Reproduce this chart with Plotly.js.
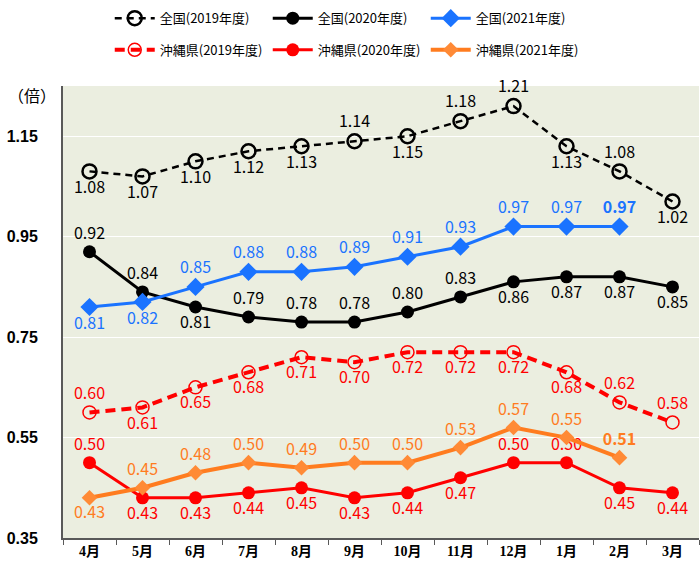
<!DOCTYPE html>
<html><head><meta charset="utf-8">
<script src="https://cdn.plot.ly/plotly-3.0.1.min.js"></script>
<style>html,body{margin:0;padding:0;background:#fff}#c{width:700px;height:569px}</style>
</head><body><div id="c"></div>
<script>
const months = ['4月','5月','6月','7月','8月','9月','10月','11月','12月','1月','2月','3月'];
const zenkoku2019 = [1.08,1.07,1.10,1.12,1.13,1.14,1.15,1.18,1.21,1.13,1.08,1.02];
const zenkoku2020 = [0.92,0.84,0.81,0.79,0.78,0.78,0.80,0.83,0.86,0.87,0.87,0.85];
const zenkoku2021 = [0.81,0.82,0.85,0.88,0.88,0.89,0.91,0.93,0.97,0.97,0.97];
const okinawa2019 = [0.60,0.61,0.65,0.68,0.71,0.70,0.72,0.72,0.72,0.68,0.62,0.58];
const okinawa2020 = [0.50,0.43,0.43,0.44,0.45,0.43,0.44,0.47,0.50,0.50,0.45,0.44];
const okinawa2021 = [0.43,0.45,0.48,0.50,0.49,0.50,0.50,0.53,0.57,0.55,0.51];

// label placement: 'u' above, 'd' below
const pos_z19 = 'ddddduduudud';
const pos_z20 = 'uuduuuuudddd';
const pos_z21 = 'dduuuuuuuuu';
const pos_o19 = 'uddddddddduu';
const pos_o20 = 'uddddddduudd';
const pos_o21 = 'duuuuuuuuuu';

const JP = '"Noto Sans CJK JP", "Noto Sans", sans-serif';
function tp(p){return p.split('').map(c=>c==='u'?'top center':'bottom center');}
function lbl(arr, boldLast){return arr.map((v,i)=>{const s=v.toFixed(2);return (boldLast&&i===arr.length-1)?'<b>'+s+'</b>':s;});}

function tr(name, leg, y, pos, color, dash, width, marker, boldLast){
  return {
    type:'scatter', mode:'lines+markers+text', name:name, legend:leg,
    x: months.slice(0,y.length), y:y,
    text: lbl(y,boldLast), textposition: tp(pos),
    textfont:{family:JP,size:16,color:color},
    line:{color:color,width:width,dash:dash},
    marker:marker, cliponaxis:false, hoverinfo:'skip'
  };
}

const data = [
  tr('全国(2019年度)', 'legend', zenkoku2019, pos_z19, '#000000', '7px,5px', 2.5,
     {symbol:'circle-open',size:14,color:'#000000',line:{width:2.5,color:'#000000'}}),
  tr('全国(2020年度)', 'legend', zenkoku2020, pos_z20, '#000000', 'solid', 3,
     {symbol:'circle',size:13,color:'#000000'}),
  tr('全国(2021年度)', 'legend', zenkoku2021, pos_z21, '#1a73ff', 'solid', 3,
     {symbol:'diamond',size:14,color:'#1a73ff'}, true),
  tr('沖縄県(2019年度)', 'legend2', okinawa2019, pos_o19, '#ff0000', '10px,6px', 4,
     {symbol:'circle-open',size:13,color:'#ff0000',line:{width:1.5,color:'#ff0000'}}),
  tr('沖縄県(2020年度)', 'legend2', okinawa2020, pos_o20, '#ff0000', 'solid', 3,
     {symbol:'circle',size:13,color:'#ff0000'}),
  tr('沖縄県(2021年度)', 'legend2', okinawa2021, pos_o21, '#ff7c1f', 'solid', 4,
     {symbol:'diamond',size:12,color:'#ff8a36'}, true)
];

const legBase = {orientation:'h', xanchor:'left', yanchor:'middle', itemwidth:40,
          entrywidth:103, entrywidthmode:'pixels', traceorder:'normal',
          font:{family:JP,size:13,color:'#000'}, bgcolor:'rgba(0,0,0,0)'};

const layout = {
  width:700, height:569,
  margin:{l:63,r:1,t:86,b:31,autoexpand:false},
  paper_bgcolor:'#ffffff', plot_bgcolor:'#ebeee0',
  showlegend:true,
  legend:Object.assign({}, legBase, {x:0.0735, y:1.150}),
  legend2:Object.assign({}, legBase, {x:0.0735, y:1.080}),
  xaxis:{type:'category', tickson:'boundaries', ticks:'outside', ticklen:5, tickcolor:'#595959',
         showline:true, linecolor:'#595959', linewidth:1.5, showgrid:false, zeroline:false,
         tickfont:{family:'"Liberation Serif", "Noto Sans CJK JP", serif', size:14, color:'#000', weight:'bold'},
         range:[-0.5,11.5], fixedrange:true},
  yaxis:{range:[0.35,1.25], tick0:0.35, dtick:0.2, tickformat:'.2f',
         showline:true, linecolor:'#595959', linewidth:2, gridcolor:'#ffffff', gridwidth:1,
         zeroline:false, ticks:'', ticklabelstandoff:20,
         tickfont:{family:'"Liberation Sans", Arial, sans-serif', size:16, color:'#000', weight:'bold'},
         fixedrange:true},
  annotations:[{xref:'paper',yref:'paper',x:-0.008,y:0.98,xanchor:'right',yanchor:'middle',
                text:'（倍）',showarrow:false,font:{family:JP,size:16,color:'#000'}}]
};
Plotly.newPlot('c', data, layout, {displayModeBar:false, staticPlot:true});
</script></body></html>
